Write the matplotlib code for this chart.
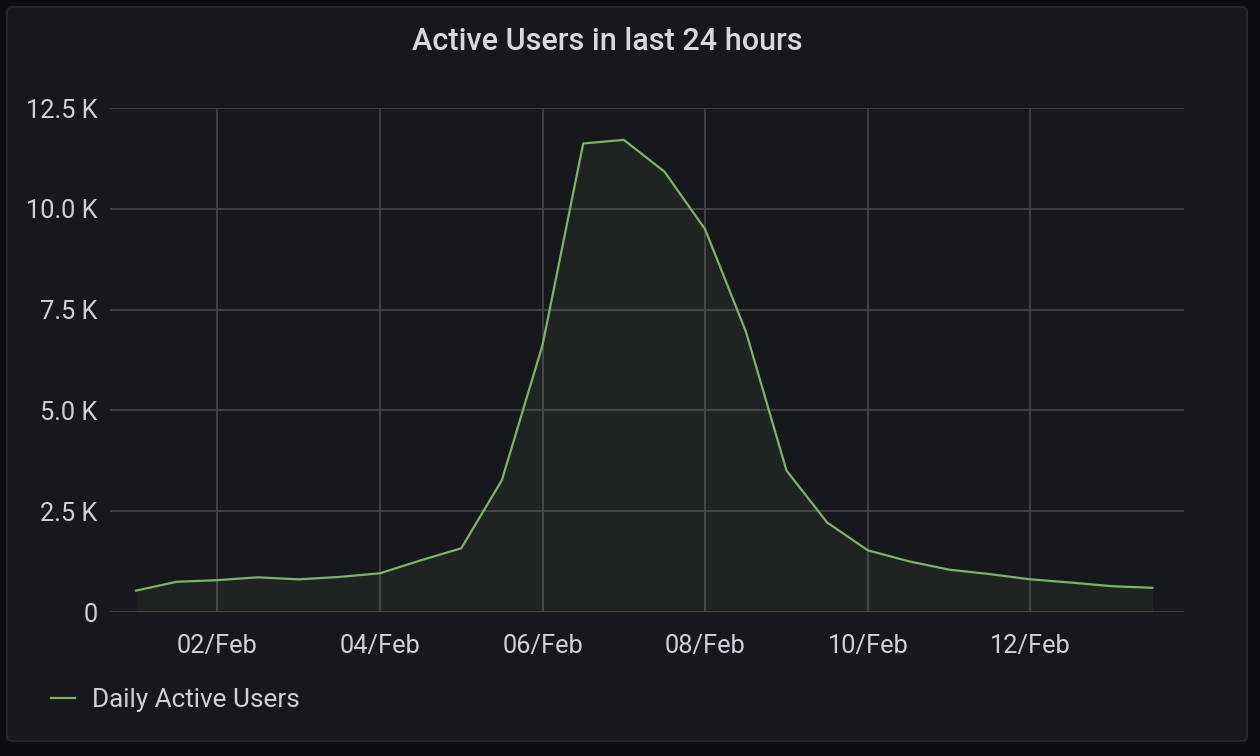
import pandas as pd
import numpy as np
import matplotlib
matplotlib.use("Agg")
import matplotlib.pyplot as plt
import matplotlib.dates as mdates
from matplotlib.patches import FancyBboxPatch
from matplotlib.transforms import IdentityTransform
from matplotlib.ticker import FuncFormatter

times = pd.date_range("2023-02-01 00:00", periods=26, freq="12h")
active_users = [530, 750, 790, 860, 810, 870, 960, 1280, 1580, 3270,
                6620, 11620, 11710, 10920, 9490, 6960, 3510, 2220, 1530, 1260,
                1050, 940, 810, 730, 640, 600]
y_ticks = [0, 2500, 5000, 7500, 10000, 12500]
x_ticks = pd.to_datetime(["2023-02-02", "2023-02-04", "2023-02-06", "2023-02-08",
                          "2023-02-10", "2023-02-12"])

plt.rcParams['font.family'] = ['Roboto', 'DejaVu Sans']

outer_bg = "#0c0d10"
panel_bg = "#17181c"
text_col = "#cfd0d8"
grid_col = "#434448"
line_col = "#7eb26d"

fig = plt.figure(figsize=(12.6, 7.56), dpi=100, facecolor=outer_bg)

# grafana-like panel behind everything
panel = FancyBboxPatch((7, 15), 1240, 734, boxstyle="round,pad=0,rounding_size=5",
                       transform=IdentityTransform(), facecolor=panel_bg,
                       edgecolor="#26272b", linewidth=1.5, zorder=-10)
fig.patches.append(panel)

ax = fig.add_axes([110/1260, 1 - 612/756, (1184 - 110)/1260, (612 - 108)/756])
ax.set_facecolor("none")

ax.plot(times, active_users, color=line_col, linewidth=1.6, label="Daily Active Users")
ax.fill_between(times, active_users, 0, color=line_col, alpha=0.08, linewidth=0)

ax.set_ylim(0, 12500)
ax.set_xlim(pd.Timestamp("2023-01-31 16:20"), pd.Timestamp("2023-02-13 21:20"))
ax.set_yticks(y_ticks)
ax.yaxis.set_major_formatter(FuncFormatter(lambda v, p: "0" if v == 0 else f"{v/1000:.1f} K"))
ax.set_xticks(x_ticks)
ax.xaxis.set_major_formatter(mdates.DateFormatter("%d/%b"))

ax.grid(True, color=grid_col, linewidth=1.3)
ax.set_axisbelow(True)
for s in ax.spines.values():
    s.set_visible(False)
ax.tick_params(axis='both', length=0, labelsize=18.3, colors=text_col)
ax.tick_params(axis='y', pad=9)
ax.tick_params(axis='x', pad=16)

fig.text(607/1260, 1 - 42/756, "Active Users in last 24 hours", ha="center", va="center",
         fontsize=22, fontweight="medium", color="#d8d9de")

fig.legend(loc="center left", bbox_to_anchor=(41/1260, 1 - 700/756), frameon=False,
           borderaxespad=0, fontsize=18.8, labelcolor=text_col,
           handlelength=0.9, handletextpad=0.65)

fig.savefig("out.png", dpi=100, facecolor=outer_bg)
